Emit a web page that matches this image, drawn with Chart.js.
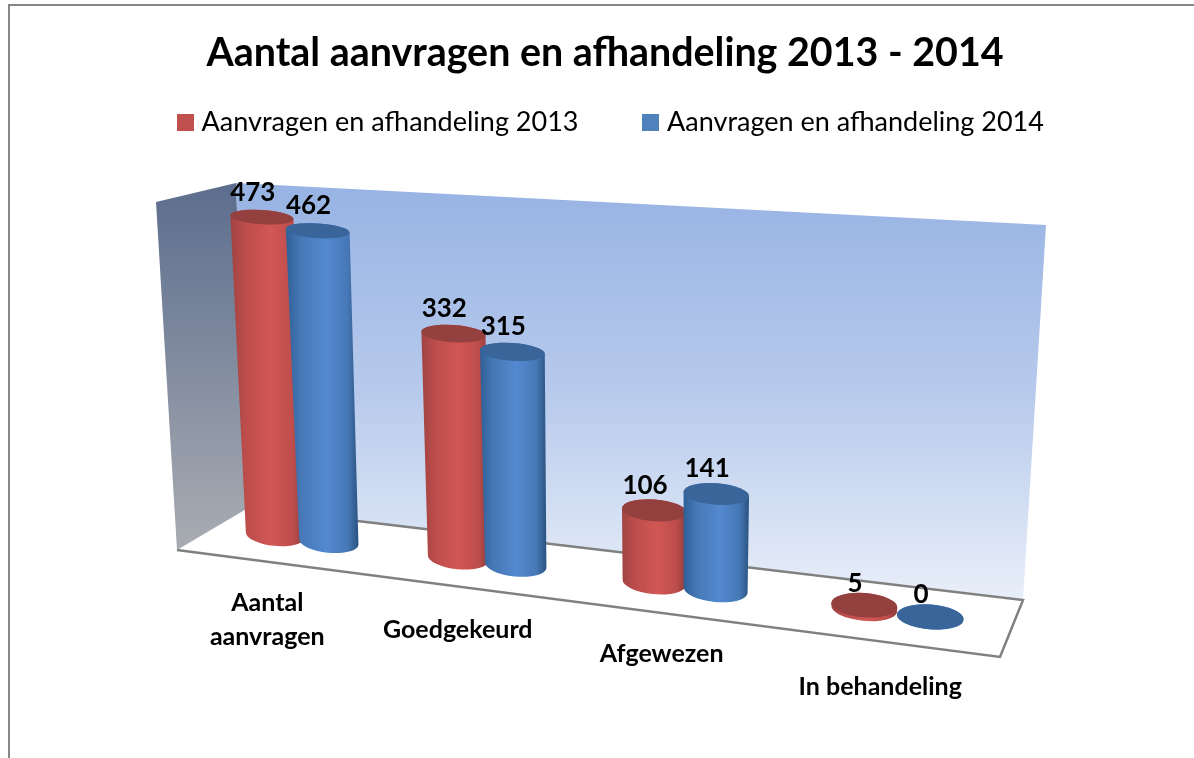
<!DOCTYPE html>
<html>
<head>
<meta charset="utf-8">
<title>Aantal aanvragen en afhandeling 2013 - 2014</title>
<script src="https://cdn.jsdelivr.net/npm/chart.js@4"></script>
<style>
  html, body { margin: 0; padding: 0; background: #fff; overflow: hidden; }
  canvas { display: block; }
</style>
</head>
<body>
<canvas id="chart" width="1194" height="758"></canvas>
<script>
// Data
const categories = [['Aantal', 'aanvragen'], 'Goedgekeurd', 'Afgewezen', 'In behandeling'];
const values2013 = [473, 332, 106, 5];
const values2014 = [462, 315, 141, 0];
const seriesNames = ['Aanvragen en afhandeling 2013', 'Aanvragen en afhandeling 2014'];
const seriesColors = ['#c0504d', '#4f81bd'];

const FONT = 'Lato, "Open Sans", sans-serif';

// Bar positions come out of the chart area as (s, t), both 0..1, and go through
// this fake perspective to land on the slanted floor of the picture
function project(s, t) {
    const x = (213.7 + 665.3 * s) / (1 - 0.1287 * s);
    const y = 535 + 0.125 * (x - 275);
    const h = t * 500 * (0.672 + 0.00002 * (x - 275));
    return { x: x + 0.00011 * (x - 654) * h, y: y - h };
}

function cylinderGradient(ctx, xl, xr, stops) {
    const g = ctx.createLinearGradient(xl, 0, xr, 0);
    g.addColorStop(0, stops[0]);
    g.addColorStop(0.2, stops[1]);
    g.addColorStop(0.55, stops[2]);
    g.addColorStop(0.85, stops[1]);
    g.addColorStop(1, stops[3]);
    return g;
}

const cylinderColors = [
    { side: ['#a04341', '#bc4d4b', '#d25755', '#8d3a38'], top: '#94403e' },
    { side: ['#2f5f96', '#4678b6', '#5389d0', '#2a527f'], top: '#39659a' }
];

// Bar controller whose elements are drawn as cylinders. Chart.js paints datasets
// last to first, the picture needs blue over red, so the plugin below calls drawCylinders
class CylinderController extends Chart.BarController {
    draw() {}
    drawCylinders() {
        const ctx = this.chart.ctx;
        const area = this.chart.chartArea;
        const colors = cylinderColors[this.index];
        this.getMeta().data.forEach(function (bar) {
            const p = bar.getProps(['x', 'y', 'base', 'width'], true);
            const s = (p.x - area.left) / area.width;
            // cylinders keep nearly the same width across the floor and overlap a little
            const half = p.width / 2 / area.width * (1.12 - 0.13 * s);
            const t = (p.base - p.y) / area.height;

            const bl = project(s - half, 0), br = project(s + half, 0);
            const tlRaw = project(s - half, t), trRaw = project(s + half, t);
            const grow = 0.02 * t * (trRaw.x - tlRaw.x);
            const tl = { x: tlRaw.x - grow, y: tlRaw.y };
            const tr = { x: trRaw.x + grow, y: trRaw.y };

            const ratio = 0.37 - 0.15 * t;
            const rxB = (br.x - bl.x) / 2, rxT = (tr.x - tl.x) / 2;
            const rotB = Math.atan2(br.y - bl.y, br.x - bl.x) * 0.8;
            const rotT = Math.atan2(tr.y - tl.y, tr.x - tl.x) * 0.6;
            const cB = { x: (bl.x + br.x) / 2, y: (bl.y + br.y) / 2 };
            const cT = { x: (tl.x + tr.x) / 2, y: (tl.y + tr.y) / 2 };

            ctx.save();
            ctx.beginPath();
            ctx.ellipse(cB.x, cB.y, rxB, rxB * 0.37, rotB, 0, Math.PI);
            ctx.ellipse(cT.x, cT.y, rxT, rxT * ratio, rotT, Math.PI, 2 * Math.PI);
            ctx.closePath();
            ctx.fillStyle = cylinderGradient(ctx, Math.min(bl.x, tl.x), Math.max(br.x, tr.x), colors.side);
            ctx.fill();

            ctx.beginPath();
            ctx.ellipse(cT.x, cT.y, rxT, rxT * ratio, rotT, 0, 2 * Math.PI);
            ctx.fillStyle = colors.top;
            ctx.fill();
            ctx.restore();
        });
    }
}
CylinderController.id = 'cylinder';
CylinderController.defaults = Chart.BarController.defaults;
Chart.register(CylinderController);

// Frame, walls and floor behind the bars
const backdrop = {
    id: 'backdrop',
    afterLayout(chart) {
        // legend sits a bit right of the title in the picture and close under it
        chart.legend.left += 8;
        chart.legend.right += 8;
        chart.legend.top -= 59;
    },
    beforeDatasetsDraw(chart) {
        const ctx = chart.ctx;
        ctx.save();
        ctx.strokeStyle = '#868686';
        ctx.lineWidth = 2;
        ctx.beginPath();
        ctx.moveTo(1194, 5);
        ctx.lineTo(9, 5);
        ctx.lineTo(9, 758);
        ctx.stroke();

        let g = ctx.createLinearGradient(0, 190, 0, 550);
        g.addColorStop(0, '#5d6e8e');
        g.addColorStop(1, '#a9acb2');
        ctx.fillStyle = g;
        ctx.beginPath();
        ctx.moveTo(156, 202);
        ctx.lineTo(236, 183);
        ctx.lineTo(248, 508);
        ctx.lineTo(177, 550);
        ctx.closePath();
        ctx.fill();

        g = ctx.createLinearGradient(0, 190, 0, 600);
        g.addColorStop(0, '#98b4e4');
        g.addColorStop(0.5, '#b8caec');
        g.addColorStop(1, '#e9eff9');
        ctx.fillStyle = g;
        ctx.beginPath();
        ctx.moveTo(236, 183);
        ctx.lineTo(1046, 225);
        ctx.lineTo(1023, 600);
        ctx.lineTo(248, 508);
        ctx.closePath();
        ctx.fill();

        ctx.strokeStyle = '#808080';
        ctx.lineWidth = 2.5;
        ctx.beginPath();
        ctx.moveTo(248, 508);
        ctx.lineTo(1023, 600);
        ctx.lineTo(1000, 657);
        ctx.lineTo(177, 550);
        ctx.stroke();
        ctx.restore();
    }
};

// Cylinders in dataset order, then category names and value labels on the projected bars
const cylindersAndLabels = {
    id: 'cylindersAndLabels',
    afterDatasetsDraw(chart) {
        const ctx = chart.ctx;
        const area = chart.chartArea;
        const xScale = chart.scales.x;

        chart.data.datasets.forEach(function (ds, d) {
            chart.getDatasetMeta(d).controller.drawCylinders();
        });

        ctx.save();
        ctx.fillStyle = '#000';
        ctx.textAlign = 'center';
        ctx.textBaseline = 'middle';

        ctx.font = 'bold 25px ' + FONT;
        xScale.getLabels().forEach(function (label, i) {
            const s = (xScale.getPixelForValue(i) - area.left) / area.width;
            const p = project(s, 0);
            const x = 1.03 * p.x - 43.5;
            const lines = Array.isArray(label) ? label : [label];
            // last label hangs a little lower in the picture
            let y = p.y + (lines.length > 1 ? 65 : 68) + Math.max(0, p.x - 700) * 0.03;
            lines.forEach(function (line) {
                ctx.fillText(line, x, y);
                y += 34;
            });
        });

        ctx.font = 'bold 26px ' + FONT;
        chart.data.datasets.forEach(function (ds, d) {
            chart.getDatasetMeta(d).data.forEach(function (bar, i) {
                const s = (bar.x - area.left) / area.width;
                const t = (bar.base - bar.y) / area.height;
                const p = project(s, t);
                ctx.fillText(String(ds.data[i]), p.x - 9, p.y - (t < 0.05 ? 22 : 25));
            });
        });
        ctx.restore();
    }
};

// Legend square as a small canvas: the built-in box keeps too wide a gap to the text
function legendSquare(color) {
    const c = document.createElement('canvas');
    c.width = 17;
    c.height = 17;
    const cx = c.getContext('2d');
    cx.fillStyle = color;
    cx.fillRect(0, 0, 17, 17);
    return c;
}

new Chart(document.getElementById('chart'), {
    type: 'cylinder',
    data: {
        labels: categories,
        datasets: [
            { label: seriesNames[0], data: values2013, backgroundColor: seriesColors[0] },
            { label: seriesNames[1], data: values2014, backgroundColor: seriesColors[1] }
        ]
    },
    options: {
        responsive: false,
        animation: false,
        layout: { padding: { left: 16, top: 30, right: 0, bottom: 100 } },
        datasets: { cylinder: { categoryPercentage: 0.6, barPercentage: 1 } },
        scales: {
            x: { type: 'category', offset: true, display: false, grid: { offset: true } },
            y: { type: 'linear', min: 0, max: 500, display: false }
        },
        plugins: {
            title: {
                display: true,
                text: 'Aantal aanvragen en afhandeling 2013 - 2014',
                color: '#000',
                font: { family: FONT, size: 39.4, weight: 'bold' },
                padding: { top: 0, bottom: 22 }
            },
            legend: {
                position: 'top',
                labels: {
                    color: '#000',
                    usePointStyle: true,
                    pointStyleWidth: 6,
                    padding: 69,
                    font: { family: FONT, size: 27 },
                    generateLabels(chart) {
                        return Chart.defaults.plugins.legend.labels.generateLabels(chart).map(function (item, i) {
                            item.pointStyle = legendSquare(seriesColors[i]);
                            return item;
                        });
                    }
                }
            },
            tooltip: { enabled: false }
        }
    },
    plugins: [backdrop, cylindersAndLabels]
});
</script>
</body>
</html>
